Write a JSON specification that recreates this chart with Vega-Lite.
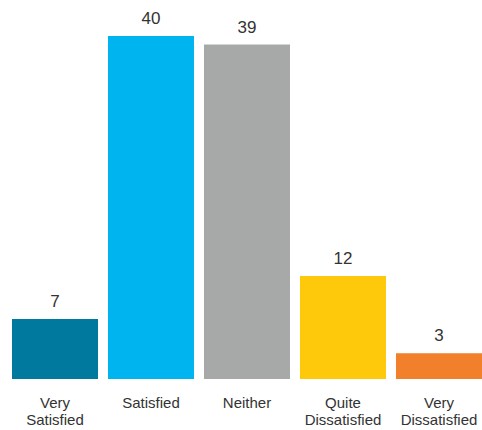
{
  "$schema": "https://vega.github.io/schema/vega-lite/v6.json",
  "width": 470,
  "height": 379,
  "autosize": {"type": "none"},
  "padding": {"left": 12, "top": 0, "right": 0, "bottom": 51},
  "background": "white",
  "config": {"view": {"stroke": null}},
  "data": {
    "values": [
      {"category": "Very Satisfied", "value": 7, "color": "#00799F"},
      {"category": "Satisfied", "value": 40, "color": "#00B4EF"},
      {"category": "Neither", "value": 39, "color": "#A7A9A9"},
      {"category": "Quite Dissatisfied", "value": 12, "color": "#FFC90B"},
      {"category": "Very Dissatisfied", "value": 3, "color": "#F27F29"}
    ]
  },
  "encoding": {
    "x": {
      "field": "category",
      "type": "nominal",
      "sort": null,
      "scale": {"paddingInner": 0.104, "paddingOuter": 0},
      "axis": {
        "title": null,
        "domain": false,
        "ticks": false,
        "labelAngle": 0,
        "labelFont": "Liberation Sans",
        "labelFontSize": 15,
        "labelColor": "#333333",
        "labelPadding": 16,
        "labelLineHeight": 17.5,
        "labelExpr": "datum.label == 'Satisfied' || datum.label == 'Neither' ? datum.label : split(datum.label, ' ')"
      }
    },
    "y": {
      "field": "value",
      "type": "quantitative",
      "scale": {"domain": [0, 44.2], "nice": false, "zero": true},
      "axis": null
    }
  },
  "layer": [
    {
      "mark": {"type": "bar"},
      "encoding": {
        "color": {"field": "color", "type": "nominal", "scale": null}
      }
    },
    {
      "mark": {
        "type": "text",
        "baseline": "alphabetic",
        "dy": -12,
        "font": "Liberation Sans",
        "fontSize": 17,
        "fill": "#333333"
      },
      "encoding": {"text": {"field": "value", "type": "quantitative"}}
    }
  ]
}
